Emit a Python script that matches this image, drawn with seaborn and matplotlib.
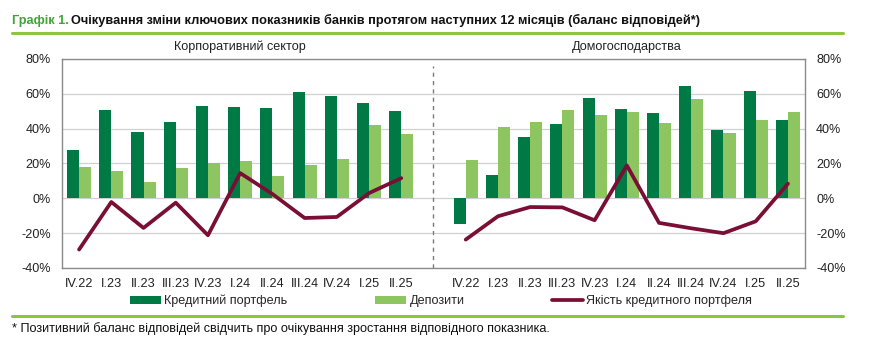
import matplotlib
matplotlib.use("Agg")
import matplotlib.pyplot as plt
from matplotlib.lines import Line2D
from matplotlib.patches import Patch
import matplotlib.font_manager as fm
import seaborn as sns
import pandas as pd
import numpy as np

quarters = ["IV.22", "I.23", "II.23", "III.23", "IV.23", "I.24", "II.24", "III.24", "IV.24", "I.25", "II.25"]
panels = ["Корпоративний сектор", "Домогосподарства"]

corp_credit = [27.7, 51.0, 38.2, 43.7, 53.2, 52.3, 52.1, 61.1, 58.8, 55.0, 50.0]
corp_deposits = [17.9, 15.6, 9.2, 17.6, 20.4, 21.4, 13.0, 19.3, 22.5, 42.2, 36.8]
corp_quality = [-29.4, -2.1, -17.0, -2.5, -21.2, 14.5, 2.5, -11.3, -10.7, 3.0, 11.6]

hh_credit = [-14.5, 13.2, 35.3, 42.9, 57.8, 51.3, 49.2, 64.7, 39.3, 61.6, 45.2]
hh_deposits = [21.8, 41.2, 43.9, 51.0, 47.9, 49.6, 43.3, 57.1, 37.4, 44.8, 49.4]
hh_quality = [-23.7, -10.3, -5.0, -5.2, -12.6, 18.9, -14.1, -17.2, -20.0, -13.2, 8.4]

series_names = ["Кредитний портфель", "Депозити", "Якість кредитного портфеля"]
yticks = [-40, -20, 0, 20, 40, 60, 80]

C_DARK = "#007A45"
C_LIGHT = "#8DC661"
C_LINE = "#7A0F35"
C_RULE = "#8CC63F"
C_TITLE = "#3FA535"

avail = {f.name for f in fm.fontManager.ttflist}
base = "Liberation Sans Narrow" if "Liberation Sans Narrow" in avail else "Liberation Sans"
narrow = base == "Liberation Sans Narrow"

sns.set_theme(style="white")
plt.rcParams["font.family"] = [base, "DejaVu Sans"]

n = len(quarters)
pos_left = list(range(n))
pos_right = [i + n + 1 for i in range(n)]

bar_rows = []
for panel, pos, cr, dp in [(panels[0], pos_left, corp_credit, corp_deposits),
                           (panels[1], pos_right, hh_credit, hh_deposits)]:
    for p, c, d in zip(pos, cr, dp):
        bar_rows.append({"pos": p, "series": series_names[0], "value": c, "panel": panel})
        bar_rows.append({"pos": p, "series": series_names[1], "value": d, "panel": panel})
bars = pd.DataFrame(bar_rows)

line_rows = []
for panel, pos, q in [(panels[0], pos_left, corp_quality), (panels[1], pos_right, hh_quality)]:
    for p, v in zip(pos, q):
        line_rows.append({"pos": p, "value": v, "panel": panel})
lines = pd.DataFrame(line_rows)

fig = plt.figure(figsize=(8.87, 3.38), dpi=100)
ax = fig.add_axes([62 / 887, 70 / 338, (805 - 62) / 887, (268 - 59) / 338])

for y in yticks:
    ax.axhline(y, color="#D0D0D0", lw=0.9, zorder=0)

sns.barplot(data=bars, x="pos", y="value", hue="series", native_scale=True,
            palette=[C_DARK, C_LIGHT], width=0.75, gap=0, saturation=1,
            edgecolor="none", linewidth=0, legend=False, ax=ax, zorder=2)
sns.lineplot(data=lines, x="pos", y="value", units="panel", estimator=None,
             color=C_LINE, lw=2.7, ax=ax, legend=False, zorder=3)

ax.set_xlim(-0.53, 2 * n + 0.53)
ax.set_ylim(-40, 80)
ax.set_yticks(yticks)
ax.set_yticklabels([f"{v}%" for v in yticks])
ax.set_xticks(pos_left + pos_right)
ax.set_xticklabels(quarters + quarters)
ax.set_xlabel("")
ax.set_ylabel("")
fs = 10 if narrow else 9.1
ax.tick_params(axis="both", labelsize=fs, colors="#222222", length=0, pad=6)
ax.tick_params(axis="x", pad=7)
ax.tick_params(axis="y", labelright=True, right=False, pad=8)
for s in ax.spines.values():
    s.set_color("#8A8A8A")
    s.set_linewidth(1.0)

ax.plot([n, n], [-40, 76], ls=(0, (3, 3)), color="#7A7A7A", lw=1.0, zorder=1)

ax.text(5, 83.5, panels[0], ha="center", va="bottom", fontsize=fs, color="#222222")
ax.text(n + 1 + 5, 83.5, panels[1], ha="center", va="bottom", fontsize=fs, color="#222222")

# title
tfs = 10 if narrow else 9.2
t1 = fig.text(12 / 887, 1 - 24 / 338, "Графік 1. ", color=C_TITLE, fontsize=tfs,
              fontweight="bold", va="baseline", ha="left")
fig.canvas.draw()
bb = t1.get_window_extent()
fig.text(bb.x1 / 887 - 0.001, 1 - 24 / 338,
         "Очікування зміни ключових показників банків протягом наступних 12 місяців (баланс відповідей*)",
         color="#111111", fontsize=tfs, fontweight="bold", va="baseline", ha="left")

fig.add_artist(Line2D([12 / 887, 843 / 887], [1 - 33 / 338, 1 - 33 / 338],
                      color=C_RULE, lw=2.2, transform=fig.transFigure))
fig.add_artist(Line2D([12 / 887, 843 / 887], [1 - 316 / 338, 1 - 316 / 338],
                      color=C_RULE, lw=2.2, transform=fig.transFigure))

handles = [Patch(facecolor=C_DARK, edgecolor="none"),
           Patch(facecolor=C_LIGHT, edgecolor="none"),
           Line2D([0], [0], color=C_LINE, lw=2.7)]
fig.legend(handles, series_names, loc="center", bbox_to_anchor=(441 / 887, 1 - 301 / 338),
           ncol=3, frameon=False, fontsize=fs, handlelength=2.5, handleheight=0.55,
           handletextpad=0.25, columnspacing=6.9, borderpad=0, borderaxespad=0)

fig.text(12 / 887, 1 - 332 / 338,
         "* Позитивний баланс відповідей свідчить про очікування зростання відповідного показника.",
         fontsize=fs, color="#111111", va="baseline", ha="left")

fig.savefig("out.png", dpi=100)
